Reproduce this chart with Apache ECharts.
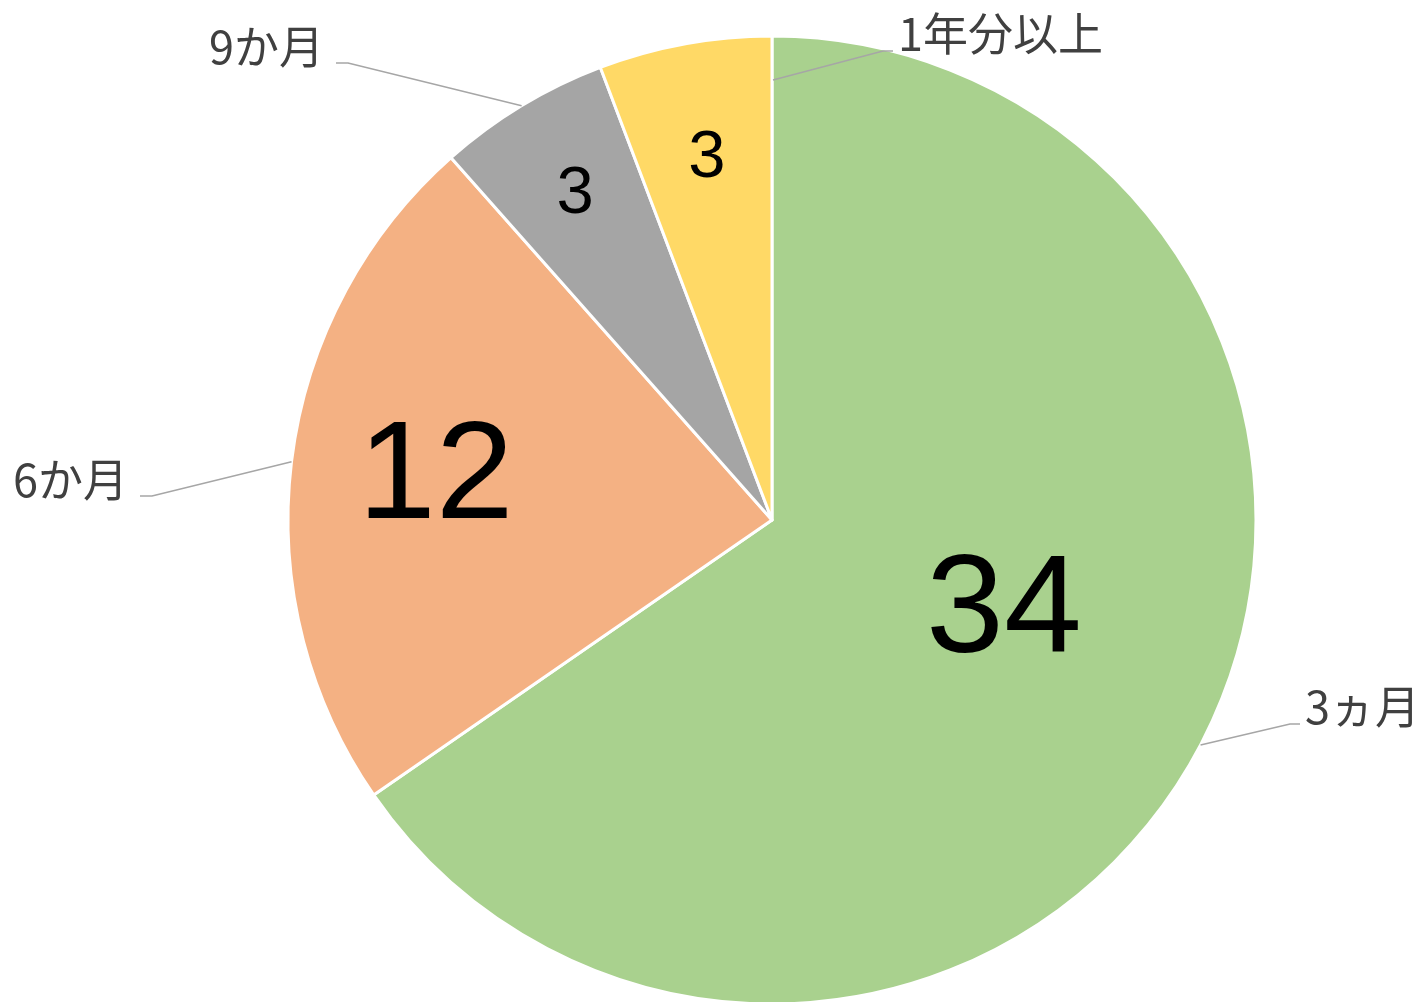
<!DOCTYPE html>
<html>
<head>
<meta charset="utf-8">
<script src="https://cdn.jsdelivr.net/npm/echarts@6/dist/echarts.min.js"></script>
<style>
  html, body { margin: 0; padding: 0; background: #fff; }
  #chart { width: 1420px; height: 1002px; }
</style>
</head>
<body>
<div id="chart"></div>
<script>
// data
const categories = ['3ヵ月', '6か月', '9か月', '1年分以上']
const values = [34, 12, 3, 3]

// styles
const colors = ['#a9d18e', '#f4b183', '#a5a5a5', '#ffd966']
const innerFontSizes = [140, 140, 67, 67]
const innerOffsets = [[15, -20], [-93, -11], [-70, -116], [-21, -120]]
// outer label anchor: [x, y, align]
const outerAnchors = [[1305, 707, 'left'], [128, 480, 'right'], [324, 47, 'right'], [898, 34, 'left']]
// excel starts the last leader line inside the slice
const lineStarts = [null, null, null, [773, 80]]

const center = [772, 520]
const radius = 484

const chart = echarts.init(document.getElementById('chart'))

const option = {
  animation: false,
  series: [
    {
      type: 'pie',
      center: center,
      radius: radius,
      startAngle: 90,
      clockwise: true,
      avoidLabelOverlap: false,
      silent: true,
      z: 2,
      itemStyle: { borderColor: '#fff', borderWidth: 3 },
      label: {
        show: true,
        position: 'inside',
        formatter: '{c}',
        color: '#000',
        fontFamily: 'Liberation Sans, Arial, sans-serif',
      },
      labelLine: { show: false },
      data: values.map((v, i) => ({
        name: categories[i],
        value: v,
        itemStyle: { color: colors[i] },
        label: { fontSize: innerFontSizes[i], offset: innerOffsets[i] },
      })),
    },
    {
      type: 'pie',
      center: center,
      radius: radius,
      startAngle: 90,
      clockwise: true,
      avoidLabelOverlap: false,
      silent: true,
      z: 5,
      itemStyle: { color: 'rgba(0,0,0,0)', borderWidth: 0 },
      label: {
        show: true,
        position: 'outside',
        formatter: '{b}',
        color: '#404040',
        fontSize: 45,
        fontFamily: 'Noto Sans CJK JP, sans-serif',
      },
      labelLine: {
        show: true,
        length: 20,
        length2: 10,
        lineStyle: { color: '#a6a6a6', width: 1.5 },
      },
      labelLayout: (params) => {
        const i = params.dataIndex
        const [x, y, align] = outerAnchors[i]
        const start = lineStarts[i] || (params.labelLinePoints ? params.labelLinePoints[0] : [x, y])
        let elbow, end
        if (align === 'left') {
          elbow = [x - 15, y + 17]
          end = [x - 5, y + 17]
        } else {
          elbow = [x + 24, y + 16]
          end = [x + 12, y + 16]
        }
        return {
          x: x,
          y: y,
          align: align,
          verticalAlign: 'middle',
          labelLinePoints: [start, elbow, end],
        }
      },
      data: values.map((v, i) => ({ name: categories[i], value: v })),
    },
  ],
}

chart.setOption(option)
</script>
</body>
</html>
